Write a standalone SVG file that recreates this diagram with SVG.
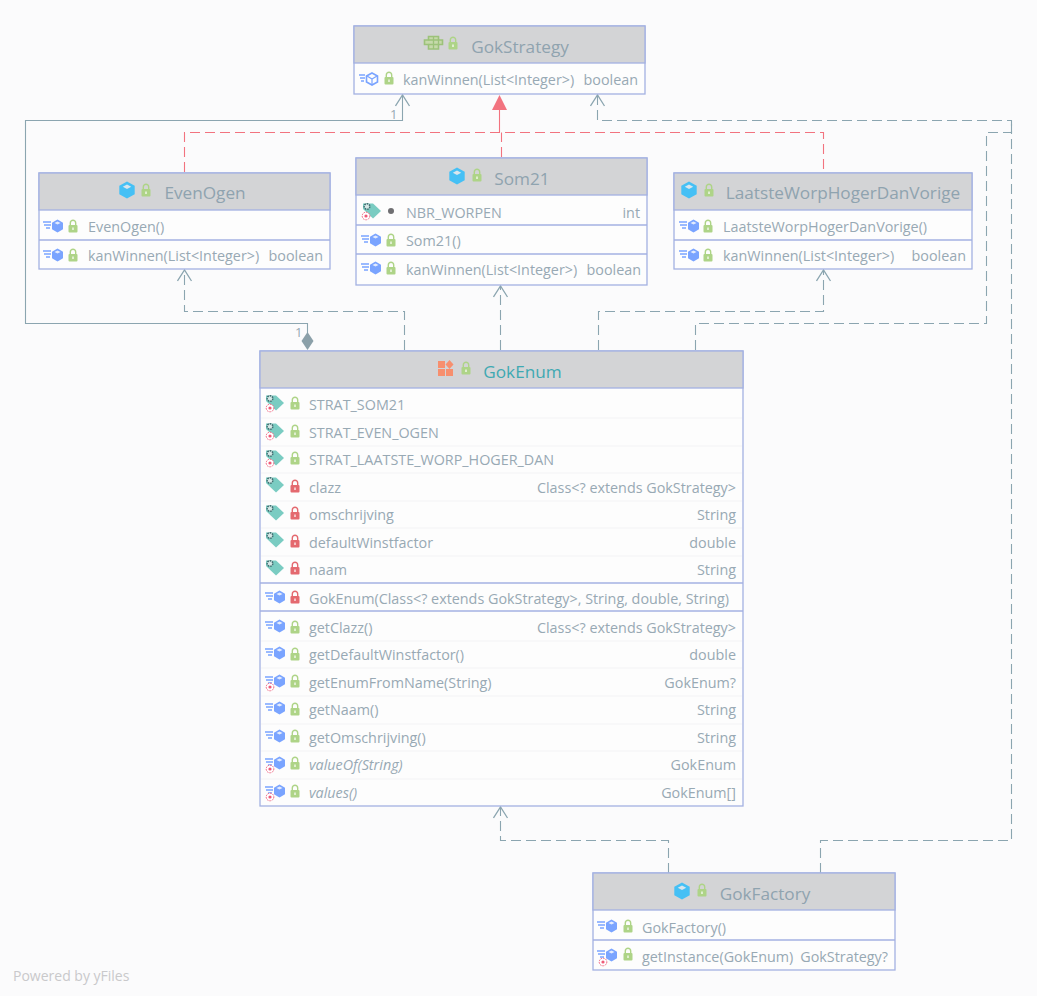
<svg xmlns="http://www.w3.org/2000/svg" width="1037" height="996" viewBox="0 0 1037 996">
<style>
text{font-family:"Open Sans","Noto Sans","Liberation Sans",sans-serif;font-size:14.35px;fill:#98a9b4}
.t{font-size:17.2px;text-anchor:middle;fill:#8fa3af}
.r{text-anchor:end}
.i{font-style:italic}
.box{fill:#fdfdfd;stroke:#a3b1e2;stroke-width:1.3}
.hd{fill:#d3d4d6;stroke:#a3b1e2;stroke-width:1.3}
.sep{stroke:#a3b1e2;stroke-width:1.3;fill:none}
.faint{stroke:#f3f3f5;stroke-width:1;fill:none}
.c{fill:none;stroke:#8ba5b0;stroke-width:1.1}
.d{stroke-dasharray:10 5}
.red{fill:none;stroke:#f2737f;stroke-width:1.1}
.lbl{font-size:13px;fill:#98a9b4}
</style>
<defs>
<g id="lockg"><rect x="-4.5" y="-1" width="9" height="7.500" rx="1" fill="#aed487"/><path d="M-2.700-1v-2a2.700 2.700 0 0 1 5.400 0v2" fill="none" stroke="#aed487" stroke-width="1.400"/><rect x="-1" y="1.500" width="2" height="2.500" fill="#fff" opacity=".6"/></g>
<g id="lockr"><rect x="-4.5" y="-1" width="9" height="7.500" rx="1" fill="#e4696f"/><path d="M-2.700-1v-2a2.700 2.700 0 0 1 5.400 0v2" fill="none" stroke="#e4696f" stroke-width="1.400"/><rect x="-1" y="1.500" width="2" height="2.500" fill="#fff" opacity=".6"/></g>
<g id="cls"><path d="M0-8.500 7.700-4.200v8.400L0 8.500-7.700 4.200v-8.400z" fill="#45c0f5"/><path d="M0-5.500 4.200-3.200 0-1-4.200-3.200z" fill="#d8e6ee"/></g>
<g id="m"><path d="M-12-4h8M-11-1h7M-9 2h4" stroke="#7aa4ff" stroke-width="1.300" fill="none"/><path d="M2.500-6.500 8-3.300v6.600L2.500 6.500-3 3.300v-6.600z" fill="#7aa4ff"/><path d="M2.500-4.500 5.500-3 2.500-1.500-.5-3z" fill="#e4ecfd"/></g>
<g id="st"><circle cx="-7" cy="4" r="3.800" fill="#fff" stroke="#ef5a78" stroke-width="1" stroke-dasharray="1.500 1"/><circle cx="-7" cy="4" r="1.600" fill="#ef5a78"/></g>
<g id="f"><path d="M-9-7.500H1L9 0 1 7.500-9-2z" fill="#7accc2"/><circle cx="-5" cy="-4.500" r="2.800" fill="#d5e8e6" stroke="#3f6a6e" stroke-width="1.500" stroke-dasharray="1.600 .9"/></g>
<marker id="open" markerWidth="16" markerHeight="16" refX="12" refY="8" orient="auto" markerUnits="userSpaceOnUse"><path d="M1 1 12 8 1 15" fill="none" stroke="#8ba5b0" stroke-width="1.300"/></marker>
</defs>
<rect width="1037" height="996" fill="#fbfbfc"/>

<g id="connectors">
<path class="c" marker-end="url(#open)" d="M307.500 333V323.500H25.500V120.500H402.500V95"/>
<path d="M307.500 332 313.500 341 307.500 350 301.500 341z" fill="#8ba0a9"/>
<path class="red d" d="M184.500 172V132.500H823.500V172"/>
<path class="red d" d="M501.500 157V132.500"/>
<path class="red" d="M499.500 132.500V108"/>
<path d="M499.500 95 507 110H492z" fill="#f2737f"/>
<path class="c d" marker-end="url(#open)" d="M404.500 350V311.500H184.500V270"/>
<path class="c d" marker-end="url(#open)" d="M500.500 350V286"/>
<path class="c d" marker-end="url(#open)" d="M598.500 350V311.500H823.500V270"/>
<path class="c d" marker-end="url(#open)" d="M695.500 350V323.500H986.500V132.500H1011.500V120.500H597.500V95"/>
<path class="c d" d="M820.500 873V840.500H1011.500V120.500"/>
<path class="c d" marker-end="url(#open)" d="M668.500 873V840.500H500.500V807"/>
<text class="lbl" x="390" y="119">1</text>
<text class="lbl" x="295" y="337">1</text>
</g>

<g id="GokStrategy">
<rect class="box" x="354" y="26" width="291" height="68"/>
<rect class="hd" x="354" y="26" width="291" height="37"/>
<g transform="translate(433,43)"><path d="M-8.500-3h4v-3.500H5.500V-3H9.500V1.500H5.500V6H-4.500V1.500h-4z" fill="#c6d9ab" stroke="#9cc27a" stroke-width="1.600"/><path d="M-4.500-3H5.500V1.500H-4.500M.5-6.500V6" fill="none" stroke="#9cc27a" stroke-width="1.300"/></g>
<use href="#lockg" x="453" y="43"/>
<text class="t" x="520" y="53">GokStrategy</text>
<g transform="translate(368,79)"><path d="M-9-4h6M-8-1h5M-7 2h3" stroke="#7aa4ff" stroke-width="1.300" fill="none"/><path d="M4-6 9.500-3v6L4 6-1.500 3v-6z" fill="#fdfdfd" stroke="#7aa4ff" stroke-width="1.600"/><path d="M-1-3 4 0 9-3M4 0V6" fill="none" stroke="#7aa4ff" stroke-width="1.200"/></g>
<use href="#lockg" x="389" y="78"/>
<text x="403" y="85">kanWinnen(List&lt;Integer&gt;)</text>
<text class="r" x="638" y="85">boolean</text>
</g>

<g id="EvenOgen">
<rect class="box" x="39" y="173" width="291" height="96"/>
<rect class="hd" x="39" y="173" width="291" height="37"/>
<use href="#cls" x="127" y="190"/>
<use href="#lockg" x="146" y="190"/>
<text class="t" x="205" y="199">EvenOgen</text>
<line class="sep" x1="39" y1="240" x2="330" y2="240"/>
<use href="#m" x="55" y="226"/><use href="#lockg" x="73" y="226"/>
<text x="88" y="232">EvenOgen()</text>
<use href="#m" x="55" y="255"/><use href="#lockg" x="73" y="255"/>
<text x="88" y="261">kanWinnen(List&lt;Integer&gt;)</text>
<text class="r" x="323" y="261">boolean</text>
</g>

<g id="Som21">
<rect class="box" x="356" y="158" width="291" height="127"/>
<rect class="hd" x="356" y="158" width="291" height="37"/>
<use href="#cls" x="457" y="176"/>
<use href="#lockg" x="477" y="175"/>
<text class="t" x="522" y="185">Som21</text>
<line class="sep" x1="356" y1="225" x2="647" y2="225"/>
<line class="sep" x1="356" y1="254" x2="647" y2="254"/>
<use href="#f" x="372" y="211"/><use href="#st" x="373" y="212"/>
<circle cx="391" cy="211" r="3" fill="#6f6f72"/>
<text x="406" y="218">NBR_WORPEN</text>
<text class="r" x="640" y="218">int</text>
<use href="#m" x="373" y="240"/><use href="#lockg" x="391" y="240"/>
<text x="406" y="246">Som21()</text>
<use href="#m" x="373" y="268"/><use href="#lockg" x="391" y="268"/>
<text x="406" y="275">kanWinnen(List&lt;Integer&gt;)</text>
<text class="r" x="641" y="275">boolean</text>
</g>

<g id="LaatsteWorpHogerDanVorige">
<rect class="box" x="674" y="173" width="298" height="96"/>
<rect class="hd" x="674" y="173" width="298" height="37"/>
<use href="#cls" x="689" y="190"/>
<use href="#lockg" x="709" y="190"/>
<text class="t" x="843" y="199">LaatsteWorpHogerDanVorige</text>
<line class="sep" x1="674" y1="240" x2="972" y2="240"/>
<use href="#m" x="691" y="226"/><use href="#lockg" x="708" y="226"/>
<text x="723" y="232">LaatsteWorpHogerDanVorige()</text>
<use href="#m" x="691" y="255"/><use href="#lockg" x="708" y="255"/>
<text x="723" y="261">kanWinnen(List&lt;Integer&gt;)</text>
<text class="r" x="966" y="261">boolean</text>
</g>

<g id="GokEnum">
<rect class="box" x="260" y="351" width="483" height="455"/>
<rect class="hd" x="260" y="351" width="483" height="37"/>
<g transform="translate(446,368)" fill="#f78f6e"><rect x="-8" y="-7" width="7" height="7"/><rect x="-8" y="1" width="7" height="7"/><rect x="0" y="1" width="7" height="7"/><path d="M3.500-8 7.500-3.500 3.500 1-.5-3.500z"/></g>
<use href="#lockg" x="466" y="368"/>
<text class="t" x="522.500" y="378" style="fill:#3fa9b2">GokEnum</text>
<path class="faint" d="M261 418H742M261 446H742M261 473H742M261 501H742M261 528H742M261 556H742M261 641H742M261 668H742M261 696H742M261 724H742M261 751H742M261 779H742"/>
<line class="sep" x1="260" y1="583" x2="743" y2="583"/>
<line class="sep" x1="260" y1="611" x2="743" y2="611"/>

<use href="#f" x="275" y="403"/><use href="#st" x="277" y="404"/><use href="#lockg" x="295" y="403"/>
<text x="309" y="410">STRAT_SOM21</text>
<use href="#f" x="275" y="431"/><use href="#st" x="277" y="432"/><use href="#lockg" x="295" y="431"/>
<text x="309" y="438">STRAT_EVEN_OGEN</text>
<use href="#f" x="275" y="458"/><use href="#st" x="277" y="459"/><use href="#lockg" x="295" y="458"/>
<text x="309" y="465">STRAT_LAATSTE_WORP_HOGER_DAN</text>
<use href="#f" x="275" y="485"/><use href="#lockr" x="295" y="486"/>
<text x="309" y="493">clazz</text>
<text class="r" x="736" y="493">Class&lt;? extends GokStrategy&gt;</text>
<use href="#f" x="275" y="513"/><use href="#lockr" x="295" y="513"/>
<text x="309" y="520">omschrijving</text>
<text class="r" x="736" y="520">String</text>
<use href="#f" x="275" y="540"/><use href="#lockr" x="295" y="541"/>
<text x="309" y="548">defaultWinstfactor</text>
<text class="r" x="736" y="548">double</text>
<use href="#f" x="275" y="568"/><use href="#lockr" x="295" y="568"/>
<text x="309" y="575">naam</text>
<text class="r" x="736" y="575">String</text>

<use href="#m" x="277" y="597"/><use href="#lockr" x="295" y="597"/>
<text x="309" y="604">GokEnum(Class&lt;? extends GokStrategy&gt;, String, double, String)</text>

<use href="#m" x="277" y="626"/><use href="#lockg" x="295" y="627"/>
<text x="309" y="633">getClazz()</text>
<text class="r" x="736" y="633">Class&lt;? extends GokStrategy&gt;</text>
<use href="#m" x="277" y="653"/><use href="#lockg" x="295" y="654"/>
<text x="309" y="660">getDefaultWinstfactor()</text>
<text class="r" x="736" y="660">double</text>
<use href="#m" x="277" y="681"/><use href="#st" x="277" y="683"/><use href="#lockg" x="295" y="681"/>
<text x="309" y="688">getEnumFromName(String)</text>
<text class="r" x="736" y="688">GokEnum?</text>
<use href="#m" x="277" y="708"/><use href="#lockg" x="295" y="709"/>
<text x="309" y="715">getNaam()</text>
<text class="r" x="736" y="715">String</text>
<use href="#m" x="277" y="736"/><use href="#lockg" x="295" y="736"/>
<text x="309" y="743">getOmschrijving()</text>
<text class="r" x="736" y="743">String</text>
<use href="#m" x="277" y="763"/><use href="#st" x="277" y="765"/><use href="#lockg" x="295" y="763"/>
<text class="i" x="309" y="770">valueOf(String)</text>
<text class="r" x="736" y="770">GokEnum</text>
<use href="#m" x="277" y="791"/><use href="#st" x="277" y="793"/><use href="#lockg" x="295" y="791"/>
<text class="i" x="309" y="798">values()</text>
<text class="r" x="736" y="798">GokEnum[]</text>
</g>

<g id="GokFactory">
<rect class="box" x="593" y="873" width="302" height="97"/>
<rect class="hd" x="593" y="873" width="302" height="37"/>
<use href="#cls" x="682" y="891"/>
<use href="#lockg" x="702" y="890"/>
<text class="t" x="765" y="900">GokFactory</text>
<line class="sep" x1="593" y1="940" x2="895" y2="940"/>
<use href="#m" x="609" y="926"/><use href="#lockg" x="628" y="926"/>
<text x="642" y="933">GokFactory()</text>
<use href="#m" x="609" y="955"/><use href="#st" x="610" y="958"/><use href="#lockg" x="628" y="954"/>
<text x="642" y="962">getInstance(GokEnum)</text>
<text class="r" x="888" y="962">GokStrategy?</text>
</g>

<text x="13" y="981" style="fill:#c9c9cb;font-size:14px">Powered by yFiles</text>
</svg>
